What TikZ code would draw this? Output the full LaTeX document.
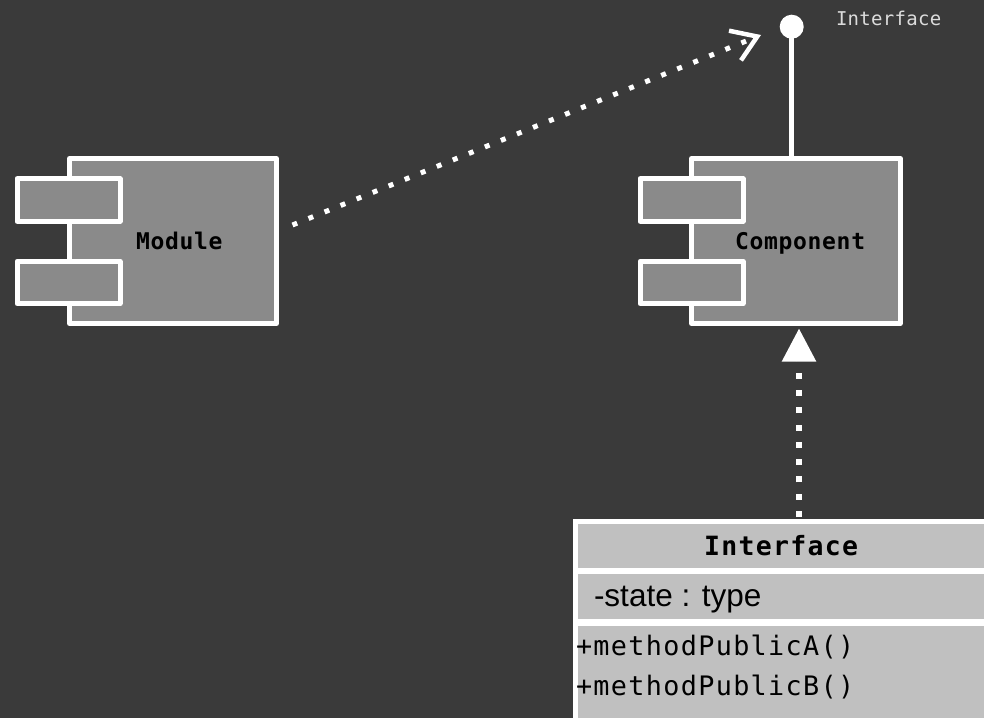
\documentclass[tikz,border=0pt]{standalone}
\usepackage{fontspec}
\setmainfont{Liberation Sans}
\newfontfamily\boxfont[LetterSpace=3]{DejaVu Sans Mono}
\newfontfamily\headfont[LetterSpace=5]{DejaVu Sans Mono}
\newfontfamily\opfont[LetterSpace=5]{DejaVu Sans Mono}
\newfontfamily\tagfont[LetterSpace=1.5]{DejaVu Sans Mono}
\usetikzlibrary{arrows.meta}

\definecolor{canvas}{HTML}{3A3A3A}
\definecolor{partfill}{HTML}{8A8A8A}
\definecolor{classfill}{HTML}{C0C0C0}
\definecolor{tagcol}{HTML}{DCDCDC}

\tikzset{
  partbox/.style={draw=white, fill=partfill, line width=5pt, line join=round,
    rectangle, inner sep=0pt},
  portbox/.style={partbox, minimum width=103pt, minimum height=42.5pt},
  txt/.style={inner sep=0pt, outer sep=0pt, text=black},
  dependency/.style={draw=white, line width=5pt,
    dash pattern=on 5pt off 12.3pt,
    -{Straight Barb[length=24pt, width=32pt, line width=4.5pt]}},
  realization/.style={draw=white, line width=5.5pt,
    dash pattern=on 6pt off 11.3pt, dash phase=15.3pt,
    -{Triangle[length=33pt, width=33pt]}},
  provided/.style={draw=white, line width=5.5pt},
}

\begin{document}
\begin{tikzpicture}[x=1pt, y=-1pt]
  \useasboundingbox (0,0) rectangle (984,718);
  \clip (0,0) rectangle (984,718);
  \fill[canvas] (0,0) rectangle (984,718);

  % Module component
  \node[partbox, minimum width=207pt, minimum height=165pt] (module) at (173,241) {};
  \node[portbox] (module-p1) at (68.5,200) {};
  \node[portbox] (module-p2) at (68.5,282.5) {};
  \node[txt, anchor=base west] (module-name) at (136,249)
    {\fontsize{23pt}{27pt}\selectfont\boxfont\bfseries Module};

  % Component with its provided interface
  \node[partbox, minimum width=208.7pt, minimum height=165pt] (comp) at (795.8,241) {};
  \node[portbox] (comp-p1) at (691.5,200) {};
  \node[portbox] (comp-p2) at (691.5,282.5) {};
  \node[txt, anchor=base west] (comp-name) at (735,249)
    {\fontsize{23pt}{27pt}\selectfont\boxfont\bfseries Component};

  \node[circle, fill=white, inner sep=0pt, minimum size=24pt] (lolli) at (791.7,26.7) {};
  \draw[provided] (lolli.center) -- (lolli.center |- comp.north);
  \node[txt, anchor=base west, text=tagcol] (lolli-name) at (836,25)
    {\fontsize{19pt}{22pt}\selectfont\tagfont Interface};

  % Interface class
  \node[draw=white, fill=classfill, line width=5pt, inner sep=0pt,
        minimum width=424.5pt, minimum height=198.5pt] (cls) at (787.75,620.75) {};
  \draw[white, line width=6pt] (cls.west |- 0,571) -- (cls.east |- 0,571);
  \draw[white, line width=6.5pt] (cls.west |- 0,622.5) -- (cls.east |- 0,622.5);
  \node[txt, anchor=base west] (cls-name) at (704,555)
    {\fontsize{26.5pt}{30pt}\selectfont\headfont\bfseries Interface};
  \node[txt, anchor=base west] (cls-attr) at (594,606)
    {\fontsize{31.5pt}{36pt}\selectfont -state : type};
  \node[txt, anchor=base west] (cls-opa) at (576,655)
    {\fontsize{26.8pt}{30pt}\selectfont\opfont +methodPublicA()};
  \node[txt, anchor=base west] (cls-opb) at (576,695)
    {\fontsize{26.8pt}{30pt}\selectfont\opfont +methodPublicB()};

  % Connectors
  \draw[dependency] ([shift={(13.5,-16)}]module.east) -- ([shift={(-30.7,8.3)}]lolli.center);
  \draw[realization] (cls.north -| 799,0) -- ([xshift=3.2pt,yshift=-2.5pt]comp.south);
\end{tikzpicture}
\end{document}
